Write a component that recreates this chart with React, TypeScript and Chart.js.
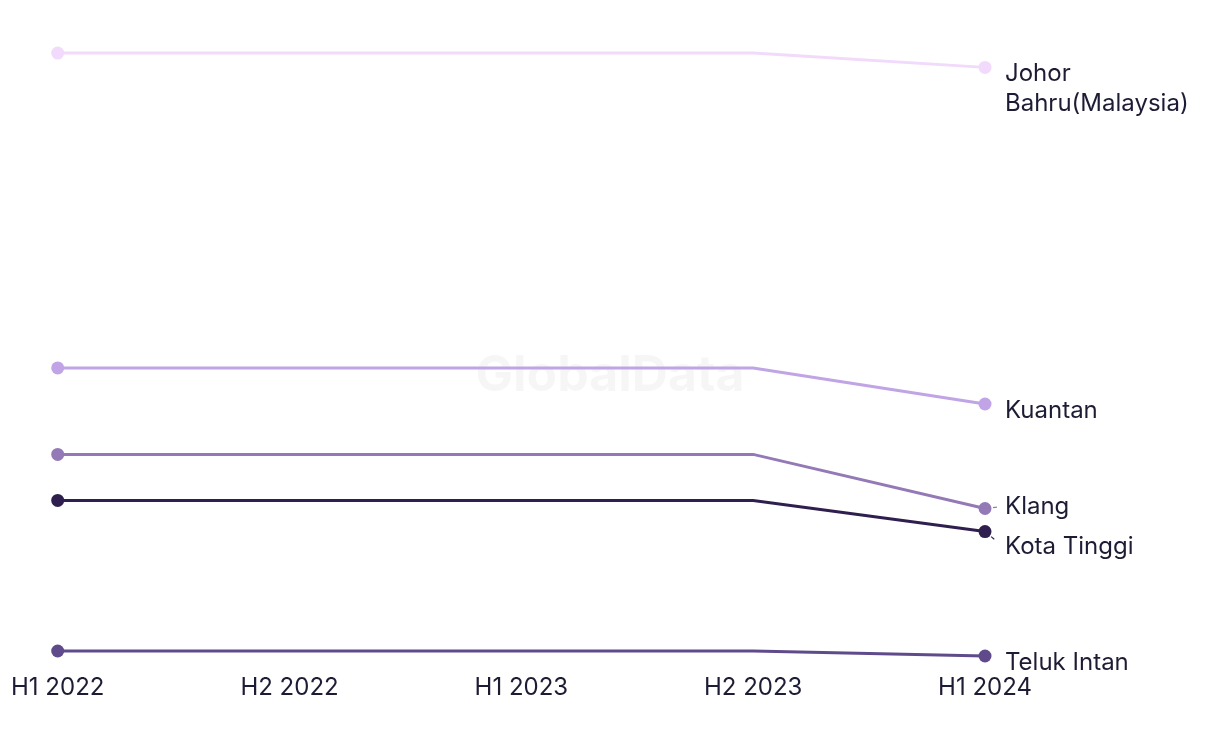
import React, { useEffect, useRef } from "react";
import { Chart, registerables } from "chart.js";

Chart.register(...registerables);

const categories = ["H1 2022", "H2 2022", "H1 2023", "H2 2023", "H1 2024"];
const seriesNames = ["Johor Bahru(Malaysia)", "Kuantan", "Klang", "Kota Tinggi", "Teluk Intan"];
const johorValues = [97.9, 97.9, 97.9, 97.9, 95.6];
const kuantanValues = [47.3, 47.3, 47.3, 47.3, 41.5];
const klangValues = [33.4, 33.4, 33.4, 33.4, 24.7];
const kotaTinggiValues = [26.0, 26.0, 26.0, 26.0, 21.0];
const telukIntanValues = [1.8, 1.8, 1.8, 1.8, 1.0];
const seriesColors = ["#f1dafc", "#c0a4e6", "#9479b7", "#2f1f4f", "#5f4b8b"];
const allValues = [johorValues, kuantanValues, klangValues, kotaTinggiValues, telukIntanValues];

const FONT = "Inter, 'Open Sans', sans-serif";
const TEXT_COLOR = "#1d1c35";

const watermarkPlugin = {
  id: "watermark",
  beforeDatasetsDraw(chart: any) {
    const ctx = chart.ctx;
    ctx.save();
    ctx.font = `bold 50px ${FONT}`;
    ctx.fillStyle = "rgba(0,0,0,0.035)";
    ctx.textAlign = "center";
    ctx.textBaseline = "middle";
    ctx.fillText("GlobalData", 610, 376);
    ctx.restore();
  },
};

const endLabelPlugin = {
  id: "endLabels",
  afterDatasetsDraw(chart: any) {
    const ctx = chart.ctx;
    ctx.save();
    ctx.font = `24px ${FONT}`;
    ctx.fillStyle = TEXT_COLOR;
    ctx.textBaseline = "middle";
    ctx.textAlign = "left";
    const maxW = 1220 - 1005 - 8;
    const items = chart.data.datasets.map((ds: any, i: number) => {
      const meta = chart.getDatasetMeta(i);
      const pt = meta.data[meta.data.length - 1];
      const words = String(ds.label).split(" ");
      const lines: string[] = [];
      let cur = "";
      words.forEach((w: string) => {
        const t = cur ? cur + " " + w : w;
        if (ctx.measureText(t).width > maxW && cur) {
          lines.push(cur);
          cur = w;
        } else cur = t;
      });
      if (cur) lines.push(cur);
      return { px: pt.x, py: pt.y, y: pt.y + 6.5, lines, color: ds.borderColor, want: pt.y + 6.5 };
    });
    const sorted = [...items].sort((a, b) => a.y - b.y);
    const gap = 40;
    for (let iter = 0; iter < 20; iter++) {
      for (let k = 0; k < sorted.length - 1; k++) {
        const a = sorted[k];
        const b = sorted[k + 1];
        const aBottom = a.y + (a.lines.length - 1) * 30;
        if (b.y - aBottom < gap) {
          const over = gap - (b.y - aBottom);
          a.y -= over / 2;
          b.y += over / 2;
        }
      }
    }
    items.forEach((it: any) => {
      it.lines.forEach((l: string, j: number) => {
        ctx.fillText(l, 1005, it.y + j * 30);
      });
      if (Math.abs(it.y - it.want) > 2) {
        const dx = 1003 - it.px;
        const dy = it.y - it.py;
        const len = Math.sqrt(dx * dx + dy * dy);
        ctx.strokeStyle = it.color;
        ctx.lineWidth = 1.2;
        ctx.beginPath();
        ctx.moveTo(it.px + (dx / len) * 8, it.py + (dy / len) * 8);
        ctx.lineTo(it.px + (dx / len) * 12, it.py + (dy / len) * 12);
        ctx.stroke();
      }
    });
    ctx.restore();
  },
};

export default function App() {
  const ref = useRef<HTMLCanvasElement | null>(null);
  useEffect(() => {
    document.body.style.margin = "0";
    if (!ref.current) return;
    const chart = new Chart(ref.current, {
      type: "line",
      data: {
        labels: categories,
        datasets: allValues.map((vals, i) => ({
          label: seriesNames[i],
          data: vals,
          borderColor: seriesColors[i],
          backgroundColor: seriesColors[i],
          borderWidth: 3,
          pointRadius: vals.map((_, j) => (j === 0 || j === vals.length - 1 ? 6.5 : 0)),
          pointHoverRadius: 0,
          pointBorderWidth: 0,
          tension: 0,
          clip: false as any,
        })),
      },
      options: {
        animation: false,
        responsive: true,
        maintainAspectRatio: false,
        layout: { padding: { left: 57, right: 235, top: 40, bottom: 31 } },
        plugins: { legend: { display: false }, tooltip: { enabled: false } },
        scales: {
          x: {
            offset: false,
            grid: { display: false, drawTicks: false },
            border: { display: false },
            ticks: {
              color: TEXT_COLOR,
              font: { family: FONT, size: 24 },
              padding: 11,
              maxRotation: 0,
              autoSkip: false,
            },
          },
          y: {
            display: false,
            min: 0,
            max: 100,
          },
        },
      },
      plugins: [watermarkPlugin, endLabelPlugin],
    });
    return () => chart.destroy();
  }, []);
  return (
    <div style={{ position: "relative", width: 1220, height: 744 }}>
      <canvas ref={ref} />
    </div>
  );
}
